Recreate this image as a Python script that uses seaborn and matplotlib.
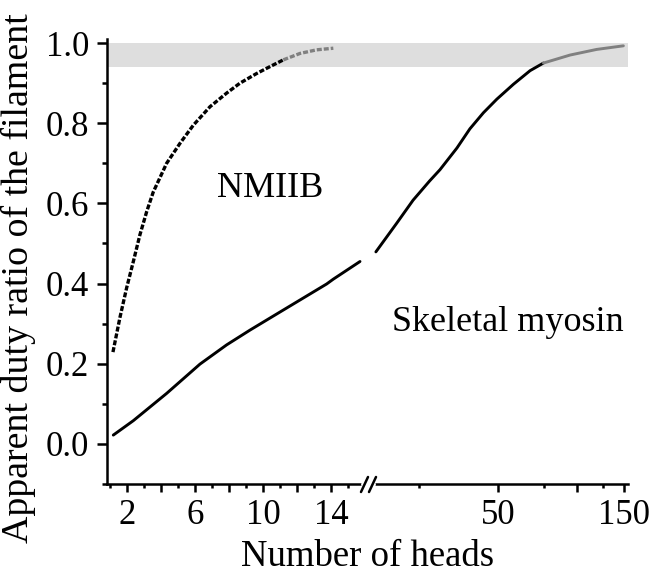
import numpy as np
import pandas as pd
import matplotlib
matplotlib.use("Agg")
import matplotlib.pyplot as plt
import seaborn as sns
from matplotlib.lines import Line2D
from matplotlib.ticker import FixedLocator, NullFormatter, FixedFormatter

# ---- data ----
nmiib_heads = [1.17, 1.59, 1.98, 2.37, 2.76, 3.16, 3.54, 4.33, 5.12, 5.90, 6.88, 7.86,
               8.65, 9.63, 10.22, 11.20, 12.18, 13.16, 14.14]
nmiib_duty = [0.229, 0.317, 0.39, 0.455, 0.522, 0.580, 0.628, 0.70, 0.750, 0.795, 0.841, 0.875,
              0.90, 0.924, 0.937, 0.958, 0.974, 0.983, 0.987]

skel_left_heads = [1.19, 2.37, 3.35, 4.33, 6.29, 7.86, 9.24, 10.61, 12.18, 13.75, 14.14, 15.71]
skel_left_duty = [0.022, 0.058, 0.092, 0.126, 0.199, 0.247, 0.284, 0.319, 0.359, 0.399, 0.411, 0.455]

skel_right_heads = [17.1, 20.5, 23.7, 27.4, 30.0, 34.8, 39.0, 43.9, 49.4, 57.1, 66.1, 74.3,
                    93.9, 118.5, 149.8]
skel_right_duty = [0.479, 0.550, 0.608, 0.656, 0.684, 0.738, 0.786, 0.826, 0.860, 0.897, 0.931,
                   0.950, 0.970, 0.984, 0.993]

band_range = [0.94, 1.0]
y_ticks = [0.0, 0.2, 0.4, 0.6, 0.8, 1.0]
left_tick_labels = [2, 6, 10, 14]
right_tick_labels = [50, 150]

# ---- style ----
sns.set_style("ticks")
plt.rcParams['font.family'] = ['Liberation Serif', 'DejaVu Serif']
plt.rcParams['axes.linewidth'] = 1.8
for k in ('xtick.major.width', 'ytick.major.width', 'xtick.minor.width', 'ytick.minor.width'):
    plt.rcParams[k] = 1.8
plt.rcParams['xtick.color'] = 'black'
plt.rcParams['ytick.color'] = 'black'
plt.rcParams['text.color'] = 'black'
plt.rcParams['axes.edgecolor'] = 'black'

W, H = 650, 574
fig = plt.figure(figsize=(W / 100, H / 100), dpi=100)

def fx(px):
    return px / W

def fy(py):
    return 1 - py / H

ax_bottom = fy(484)
ax_top = fy(39)
ax1 = fig.add_axes([fx(107), ax_bottom, fx(369) - fx(107), ax_top - ax_bottom])
ax2 = fig.add_axes([fx(369), ax_bottom, fx(628) - fx(369), ax_top - ax_bottom], sharey=ax1)

ax1.set_ylim(-0.1, 1.01)
ax1.set_xlim(0.82, 16.24)
ax2.set_xscale('log')
ax2.set_xlim(16.1, 156)

band_color = '#dedede'
for ax in (ax1, ax2):
    ax.axhspan(band_range[0], band_range[1], color=band_color, lw=0, zorder=0)


def split_plot(ax, xs, ys, **kw):
    xs = np.asarray(xs, float)
    ys = np.asarray(ys, float)
    idx = np.where(ys < band_range[0])[0]
    last = idx.max() if len(idx) else -1
    if last >= 0:
        end = min(last + 2, len(xs))
        d = pd.DataFrame({'x': xs[:end], 'y': ys[:end]})
        sns.lineplot(data=d, x='x', y='y', ax=ax, color='black', sort=False,
                     estimator=None, legend=False, **kw)
    if last + 1 < len(xs):
        d = pd.DataFrame({'x': xs[last + 1:], 'y': ys[last + 1:]})
        sns.lineplot(data=d, x='x', y='y', ax=ax, color='#808080', sort=False,
                     estimator=None, legend=False, **kw)


split_plot(ax1, nmiib_heads, nmiib_duty, linewidth=2.4, linestyle=(0, (1.5, 0.6)))
split_plot(ax1, skel_left_heads, skel_left_duty, linewidth=2.1)
split_plot(ax2, skel_right_heads, skel_right_duty, linewidth=2.1)

# spines
ax1.spines['top'].set_visible(False)
ax1.spines['right'].set_visible(False)
for s in ('top', 'right', 'left'):
    ax2.spines[s].set_visible(False)

# y ticks
ax1.set_yticks(y_ticks)
ax1.set_yticklabels([f"{v:.1f}" for v in y_ticks])
ax1.yaxis.set_minor_locator(FixedLocator(np.arange(-0.1, 1.01, 0.1)))
ax1.tick_params(axis='y', which='major', direction='out', length=7, labelsize=25, pad=6)
ax1.tick_params(axis='y', which='minor', direction='out', length=3.5)
ax2.tick_params(axis='y', which='both', left=False, labelleft=False)

# x ticks left
major_left = list(range(2, 16, 2))
ax1.xaxis.set_major_locator(FixedLocator(major_left))
ax1.xaxis.set_major_formatter(FixedFormatter(
    [str(v) if v in left_tick_labels else '' for v in major_left]))
ax1.xaxis.set_minor_locator(FixedLocator(list(range(1, 17, 2))))
ax1.tick_params(axis='x', which='major', direction='out', length=6, labelsize=25, pad=5)
ax1.tick_params(axis='x', which='minor', direction='out', length=3)

# x ticks right
major_right = [50, 100, 150]
ax2.xaxis.set_major_locator(FixedLocator(major_right))
ax2.xaxis.set_major_formatter(FixedFormatter(
    [str(v) if v in right_tick_labels else '' for v in major_right]))
ax2.xaxis.set_minor_locator(FixedLocator([25, 75, 125]))
ax2.xaxis.set_minor_formatter(NullFormatter())
ax2.tick_params(axis='x', which='major', direction='out', length=6, labelsize=25, pad=5)
ax2.tick_params(axis='x', which='minor', direction='out', length=3)

for ax in (ax1, ax2):
    ax.set_xlabel('')
    ax.set_ylabel('')

# annotations
ax1.text(10.4, 0.638, 'NMIIB', fontsize=26, ha='center', va='center')
ax2.text(54.5, 0.304, 'Skeletal myosin', fontsize=26, ha='center', va='center')

fig.text(fx(368), fy(557), 'Number of heads', fontsize=26.5, ha='center', va='center')
fig.text(fx(18), fy(278), 'Apparent duty ratio of the filament', fontsize=27.3,
         ha='center', va='center', rotation=90)

# axis break marks
fig.add_artist(Line2D([fx(363), fx(373)], [fy(484), fy(484)], transform=fig.transFigure,
                      color='white', lw=3.5, zorder=10))
for x0 in (361, 369):
    fig.add_artist(Line2D([fx(x0), fx(x0 + 7)], [fy(492), fy(477)], transform=fig.transFigure,
                          color='black', lw=1.8, zorder=11))

fig.savefig('out.png', dpi=100)
